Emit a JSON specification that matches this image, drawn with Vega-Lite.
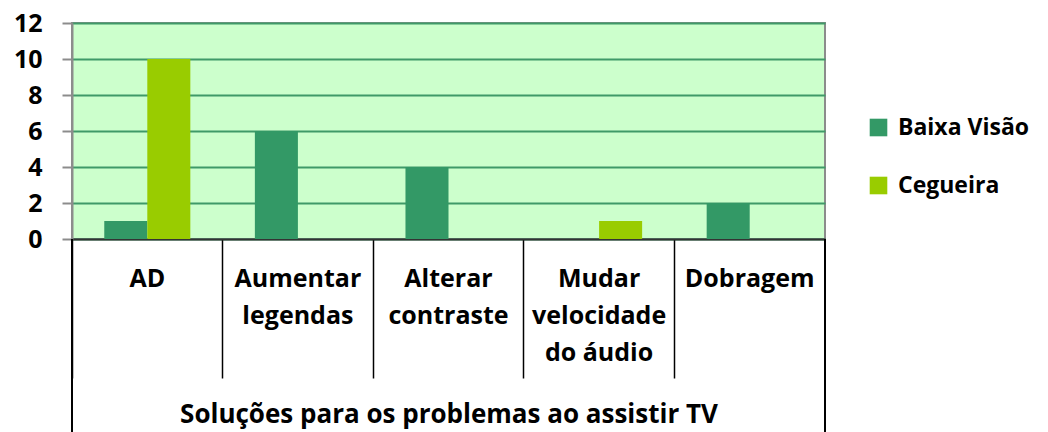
{
  "$schema": "https://vega.github.io/schema/vega-lite/v6.json",
  "width": 753,
  "height": 216,
  "autosize": {"type": "none"},
  "padding": {"left": 72, "top": 23, "right": 223, "bottom": 193},
  "background": "white",
  "config": {
    "font": "Open Sans",
    "view": {"fill": "#CCFFCC", "stroke": "#8c8c8c", "strokeWidth": 2},
    "axisY": {
      "title": null,
      "grid": true, "gridColor": "#3f9a68", "gridWidth": 2,
      "domainColor": "#8c8c8c", "domainWidth": 2,
      "tickColor": "#8c8c8c", "tickWidth": 2, "tickSize": 10,
      "labelOverlap": false, "labelFlush": false,
      "labelFontSize": 25, "labelFontWeight": "bold", "labelColor": "black", "labelPadding": 20
    }
  },
  "data": {
    "values": [
      {"cat": "AD", "grupo": "Baixa Visão", "valor": 1},
      {"cat": "AD", "grupo": "Cegueira", "valor": 10},
      {"cat": "Aumentar legendas", "grupo": "Baixa Visão", "valor": 6},
      {"cat": "Aumentar legendas", "grupo": "Cegueira", "valor": 0},
      {"cat": "Alterar contraste", "grupo": "Baixa Visão", "valor": 4},
      {"cat": "Alterar contraste", "grupo": "Cegueira", "valor": 0},
      {"cat": "Mudar velocidade do áudio", "grupo": "Baixa Visão", "valor": 0},
      {"cat": "Mudar velocidade do áudio", "grupo": "Cegueira", "valor": 1},
      {"cat": "Dobragem", "grupo": "Baixa Visão", "valor": 2},
      {"cat": "Dobragem", "grupo": "Cegueira", "valor": 0}
    ]
  },
  "layer": [
    {
      "mark": {"type": "bar"},
      "encoding": {
        "x": {
          "field": "cat", "type": "nominal",
          "sort": ["AD", "Aumentar legendas", "Alterar contraste", "Mudar velocidade do áudio", "Dobragem"],
          "scale": {"paddingInner": 0, "paddingOuter": 0},
          "axis": {
            "title": "Soluções para os problemas ao assistir TV",
            "titleFontSize": 26, "titleFontWeight": "bold", "titleColor": "black",
            "titleY": 183, "titleBaseline": "alphabetic",
            "bandPosition": 0,
            "tickSize": 139,
            "tickColor": "black", "tickWidth": 1.5,
            "domainColor": "#333333", "domainWidth": 2,
            "labelAngle": 0, "labelFontSize": 25, "labelFontWeight": "bold", "labelColor": "black",
            "labelAlign": "center",
            "labelPadding": -112, "labelBaseline": "top", "labelLineHeight": 37, "labelLimit": 0,
            "labelExpr": "datum.label === 'Mudar velocidade do áudio' ? ['Mudar', 'velocidade', 'do áudio'] : split(datum.label, ' ')"
          }
        },
        "xOffset": {
          "field": "grupo", "type": "nominal", "sort": ["Baixa Visão", "Cegueira"],
          "scale": {"paddingInner": 0, "paddingOuter": 0.75}
        },
        "y": {
          "field": "valor", "type": "quantitative",
          "scale": {"domain": [0, 12]},
          "axis": {"values": [0, 2, 4, 6, 8, 10, 12]}
        },
        "color": {
          "field": "grupo", "type": "nominal",
          "scale": {"domain": ["Baixa Visão", "Cegueira"], "range": ["#339966", "#99CC00"]},
          "legend": {
            "orient": "none", "legendX": 795, "legendY": 93, "title": null,
            "labelFontSize": 23, "labelFontWeight": "bold", "labelColor": "black",
            "symbolType": "square", "symbolSize": 310, "symbolStrokeWidth": 0, "rowPadding": 34, "labelOffset": 8
          }
        }
      }
    },
    {
      "mark": {"type": "rule", "color": "black", "strokeWidth": 1.5},
      "encoding": {
        "x": {"datum": "AD", "type": "nominal", "bandPosition": 0},
        "y": {"datum": 0, "type": "quantitative", "axis": {"values": [0, 2, 4, 6, 8, 10, 12]}},
        "y2": {"datum": -11}
      }
    },
    {
      "mark": {"type": "rule", "color": "black", "strokeWidth": 1.5},
      "encoding": {
        "x": {"datum": "Dobragem", "type": "nominal", "bandPosition": 1},
        "y": {"datum": 0, "type": "quantitative", "axis": {"values": [0, 2, 4, 6, 8, 10, 12]}},
        "y2": {"datum": -11}
      }
    }
  ]
}
